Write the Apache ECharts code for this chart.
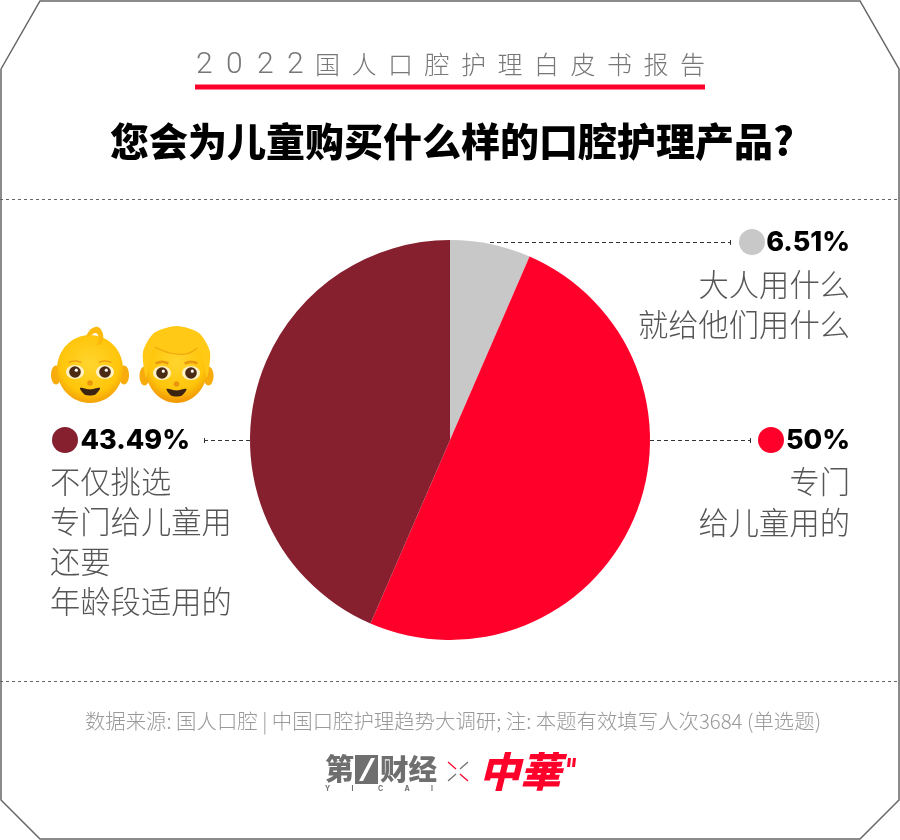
<!DOCTYPE html>
<html>
<head>
<meta charset="utf-8">
<style>html,body{margin:0;padding:0;background:#fff}#main{width:900px;height:840px}</style>
<script src="https://cdn.jsdelivr.net/npm/echarts@6/dist/echarts.min.js"></script>
</head>
<body>
<div id="main"></div>
<script>
const categories = ['大人用什么就给他们用什么', '专门给儿童用的', '不仅挑选专门给儿童用还要年龄段适用的'];
const values = [6.51, 50, 43.49];
const percentLabels = ['6.51%', '50%', '43.49%'];
const colors = ['#c8c8c8', '#ff002b', '#861f2e'];
const kicker = '2022国人口腔护理白皮书报告';
const headline = '您会为儿童购买什么样的口腔护理产品?';
const sourceNote = '数据来源: 国人口腔 | 中国口腔护理趋势大调研; 注: 本题有效填写人次3684 (单选题)';
const rightLines = [['大人用什么', '就给他们用什么'], ['专门', '给儿童用的']];
const leftLines = ['不仅挑选', '专门给儿童用', '还要', '年龄段适用的'];

const cjk = '"Noto Sans CJK SC"';
const g = [];

function text(x, y, str, size, fill, align, weight, family) {
  g.push({
    type: 'text', x, y,
    style: { text: str, fontSize: size, fill, align: align || 'left', verticalAlign: 'middle',
      fontWeight: weight || 'normal', fontFamily: family || cjk }
  });
}
function dashed(x1, x2, y, color, dash) {
  g.push({ type: 'line', shape: { x1, y1: y, x2, y2: y }, style: { stroke: color, lineWidth: 1, lineDash: dash } });
}
function blob(points, fill, smooth) {
  g.push({ type: 'polygon', shape: { points, smooth: smooth === undefined ? 0.4 : smooth }, style: { fill } });
}

// frame with cut corners
g.push({ type: 'polyline', shape: { points: [[1, 69], [40, 1], [860, 1], [899, 69], [899, 800], [860, 839], [40, 839], [1, 800], [1, 69]] },
  style: { stroke: '#666', lineWidth: 1.5, fill: null } });
dashed(0, 900, 199.5, '#666', [3, 3]);
dashed(0, 900, 681.5, '#666', [3, 3]);

// kicker, spaced out one char at a time
const digitX = [196, 226, 257, 287];
kicker.split('').forEach((c, i) => {
  if (i < 4) text(digitX[i], 65, c, 30, '#777', 'left', 300, 'Roboto');
  else text(315 + (i - 4) * 36.5, 64, c, 25, '#777', 'left', 300);
});
g.push({ type: 'rect', shape: { x: 195, y: 84.5, width: 510, height: 5 }, style: { fill: '#ff002b' } });
text(452, 141, headline, 39, '#000', 'center', 900);

// percent rows
function pctRow(dotX, y, pct, color, textX) {
  g.push({ type: 'circle', shape: { cx: dotX, cy: y, r: 13 }, style: { fill: color } });
  text(textX, y + 1, pct, 27, '#000', 'right', 800, 'Inter');
}
pctRow(752, 242, percentLabels[0], colors[0], 850);
rightLines[0].forEach((l, i) => text(850, 284 + i * 40, l, 30.3, '#555', 'right', 300));
pctRow(771, 440, percentLabels[1], colors[1], 850);
rightLines[1].forEach((l, i) => text(850, 481 + i * 41, l, 30.3, '#555', 'right', 300));
pctRow(65, 440, percentLabels[2], colors[2], 190);
leftLines.forEach((l, i) => text(50, 481 + i * 40, l, 30.3, '#555', 'left', 300));

// leader lines
dashed(490, 730, 242.5, '#333', [4, 3]);
dashed(650, 750, 440.5, '#333', [4, 3]);
dashed(204, 250, 440.5, '#333', [4, 3]);
[[730.5, 242.5], [750.5, 440.5], [204.5, 440.5]].forEach(p => {
  g.push({ type: 'line', shape: { x1: p[0], y1: p[1] - 2.5, x2: p[0], y2: p[1] + 2.5 }, style: { stroke: '#333', lineWidth: 1 } });
});

text(453, 721, sourceNote, 20.4, '#999', 'center', 300);

// faces
const skin = { type: 'radial', x: 0.5, y: 0.42, r: 0.62, colorStops: [{ offset: 0, color: '#ffd52e' }, { offset: 0.72, color: '#ffc50a' }, { offset: 1, color: '#f29c08' }] };
function face(cx, cy, rx, ry, eyeY, eyeDx, browW) {
  g.push({ type: 'ellipse', shape: { cx: cx - rx - 1, cy: eyeY + 3, rx: 5, ry: 9.5 }, style: { fill: '#f7ab0c' } });
  g.push({ type: 'ellipse', shape: { cx: cx + rx + 1, cy: eyeY + 3, rx: 5, ry: 9.5 }, style: { fill: '#f7ab0c' } });
  g.push({ type: 'ellipse', shape: { cx, cy, rx, ry }, style: { fill: skin } });
  [-eyeDx, eyeDx].forEach(dx => {
    g.push({ type: 'ellipse', shape: { cx: cx + dx, cy: eyeY, rx: 9, ry: 7 }, style: { fill: '#fff1c4' } });
    g.push({ type: 'circle', shape: { cx: cx + dx, cy: eyeY, r: 5.8 }, style: { fill: '#4a2a12' } });
    g.push({ type: 'circle', shape: { cx: cx + dx + 1.3, cy: eyeY - 1.8, r: 1.6 }, style: { fill: '#fff' } });
    g.push({ type: 'arc', shape: { cx: cx + dx, cy: eyeY + 3, r: 14, startAngle: Math.PI * 1.35, endAngle: Math.PI * 1.65 },
      style: { stroke: '#e8980f', lineWidth: browW, fill: null } });
  });
  g.push({ type: 'circle', shape: { cx, cy: eyeY + 11, r: 2.8 }, style: { fill: '#ea960c' } });
  const my = eyeY + 16;
  blob([[cx - 10, my], [cx, my + 1.5], [cx + 10, my], [cx + 5.5, my + 6.5], [cx, my + 7.5], [cx - 5.5, my + 6.5]], '#3b2314', 0.3);
}
face(90, 369, 33, 34, 372, 15, 1.2);
// baby's curl
blob([[86, 337], [91, 329], [98, 327], [103, 334], [102, 343], [97, 345], [99, 338], [96, 333], [91, 335]], '#fdba0c', 0.35);
face(176.5, 368, 31, 35, 373, 14.5, 2.6);
// boy's hair
blob([[146, 378], [143, 352], [154, 333], [177, 326], [199, 333], [210, 352], [207, 378], [203, 360], [197, 348], [186, 354], [170, 353], [155, 347], [150, 360]], '#ffc916', 0.25);
g.push({ type: 'polyline', shape: { points: [[155, 347], [170, 353], [186, 354], [197, 348]], smooth: 0.4 }, style: { stroke: '#eda60e', lineWidth: 1.2, fill: null } });

// logos
text(325, 769, '第', 29, '#6f6f6f', 'left', 900);
g.push({ type: 'rect', shape: { x: 355, y: 755, width: 23, height: 29 }, style: { fill: '#6f6f6f' } });
g.push({ type: 'polygon', shape: { points: [[371, 758], [375, 758], [363, 781], [359, 781]] }, style: { fill: '#fff' } });
text(380, 769, '财经', 28.5, '#6f6f6f', 'left', 900);
['Y', 'I', 'C', 'A', 'I'].forEach((c, i) => text(325 + i * 26.5, 789, c, 7, '#6f6f6f', 'left', 'bold', 'Inter'));
[[448, 762, 456, 769, '#ff002b'], [468, 762, 460, 769, '#6f6f6f'], [448, 781, 456, 774, '#6f6f6f'], [468, 781, 460, 774, '#ff002b']].forEach(l => {
  g.push({ type: 'line', shape: { x1: l[0], y1: l[1], x2: l[2], y2: l[3] }, style: { stroke: l[4], lineWidth: 1.2 } });
});
g.push({ type: 'text', x: 479, y: 771, style: { text: '中華', fontSize: 41, fill: '#ff002b', fontWeight: 900, fontStyle: 'italic', fontFamily: cjk, verticalAlign: 'middle' } });
g.push({ type: 'polygon', shape: { points: [[568, 758], [571, 758], [570, 767], [567, 767]] }, style: { fill: '#ff002b' } });
g.push({ type: 'polygon', shape: { points: [[573, 758], [576, 758], [575, 767], [572, 767]] }, style: { fill: '#ff002b' } });

const chart = echarts.init(document.getElementById('main'));
chart.setOption({
  animation: false,
  backgroundColor: '#fff',
  series: [{
    type: 'pie',
    center: [450, 440],
    radius: [0, 200],
    startAngle: 90,
    clockwise: true,
    label: { show: false },
    labelLine: { show: false },
    silent: true,
    data: categories.map((name, i) => ({ name, value: values[i], itemStyle: { color: colors[i] } }))
  }],
  graphic: { elements: g }
});
</script>
</body>
</html>
